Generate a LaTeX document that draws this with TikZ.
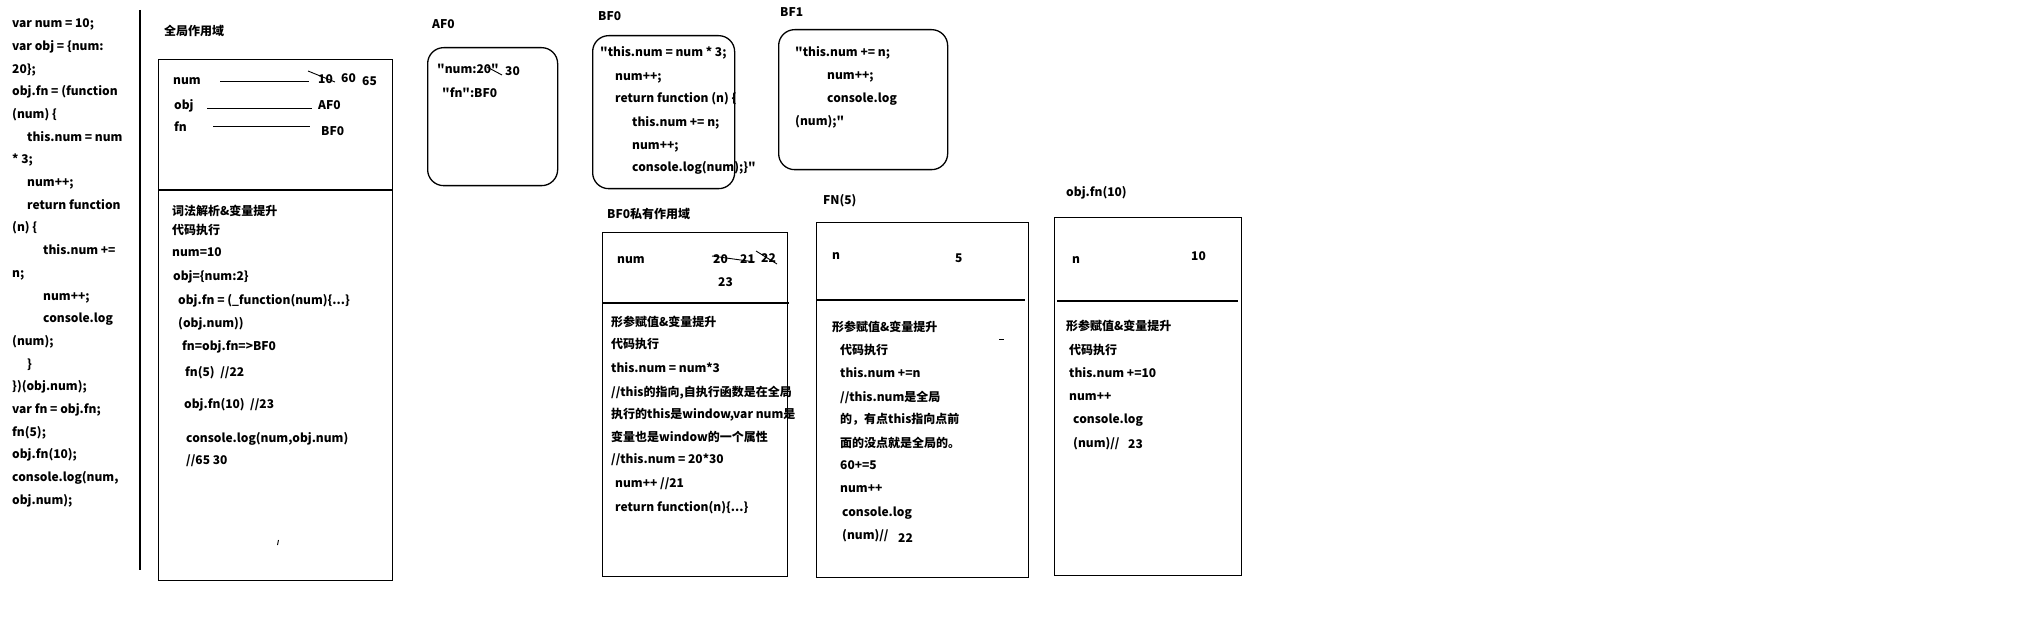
\documentclass[tikz,border=0pt]{standalone}
\usepackage{fontspec}
\newfontfamily\nf{Noto Sans CJK SC}
\begin{document}
\begin{tikzpicture}[x=1pt,y=-1pt,
  t/.style={anchor=base west, inner sep=0pt, font=\nf\bfseries\fontsize{12}{14}\selectfont},
  sqbox/.style={draw, line width=1.3pt, anchor=north west, inner sep=0pt},
  rbox/.style={draw, line width=1.3pt, rounded corners=16pt, anchor=north west, inner sep=0pt},
  ln/.style={line width=1.2pt},
  thin/.style={line width=0.9pt}]
\useasboundingbox (0,0) rectangle (2044,644);
% left source code
\node[t] (c0) at (12,28) {var num = 10;};
\node[t] (c1) at (12,50.7) {var obj = \{num:};
\node[t] (c2) at (12,73.3) {20\};};
\node[t] (c3) at (12,96) {obj.fn = (function};
\node[t] (c4) at (12,118.7) {(num) \{};
\node[t] (c5) at (27,141.3) {this.num = num};
\node[t] (c6) at (12,164) {* 3;};
\node[t] (c7) at (27,186.7) {num++;};
\node[t] (c8) at (27,209.3) {return function};
\node[t] (c9) at (12,232) {(n) \{};
\node[t] (c10) at (43,254.7) {this.num +=};
\node[t] (c11) at (12,277.3) {n;};
\node[t] (c12) at (43,300) {num++;};
\node[t] (c13) at (43,322.7) {console.log};
\node[t] (c14) at (12,345.3) {(num);};
\node[t] (c15) at (27,368) {\}};
\node[t] (c16) at (12,390.7) {\})(obj.num);};
\node[t] (c17) at (12,413.3) {var fn = obj.fn;};
\node[t] (c18) at (12,436) {fn(5);};
\node[t] (c19) at (12,458.7) {obj.fn(10);};
\node[t] (c20) at (12,481.3) {console.log(num,};
\node[t] (c21) at (12,504) {obj.num);};
\coordinate (sepT) at (140,10);
\coordinate (sepB) at (140,570);
\draw[ln] (sepT) -- (sepB);

% global scope
\node[t] (glabel) at (164,36) {全局作用域};
\node[sqbox, minimum width=234pt, minimum height=521pt] (gbox) at (158,59) {};
\coordinate (gdivL) at (158,190);
\coordinate (gdivR) at (392,190);
\draw[ln] (gdivL) -- (gdivR);
\node[t] (gnum) at (173,85) {num};
\coordinate (gnumA) at (220,81); \coordinate (gnumB) at (309,81);
\draw[thin] (gnumA) -- (gnumB);
\node[t] (g10) at (318,84) {10};
\node[t] (g60) at (341,83) {60};
\node[t] (g65) at (362,86) {65};
\coordinate (gsA) at (308,71); \coordinate (gsB) at (335,82);
\draw[thin] (gsA) -- (gsB);
\node[t] (gobj) at (174,110) {obj};
\coordinate (gobjA) at (207,108); \coordinate (gobjB) at (312,108);
\draw[thin] (gobjA) -- (gobjB);
\node[t] (gaf0) at (318,110) {AF0};
\node[t] (gfn) at (174,132) {fn};
\coordinate (gfnA) at (213,126); \coordinate (gfnB) at (310,126);
\draw[thin] (gfnA) -- (gfnB);
\node[t] (gbf0) at (321,136) {BF0};
\node[t] (g1) at (172,216) {词法解析\&变量提升};
\node[t] (g2) at (172,235) {代码执行};
\node[t] (g3) at (172,257) {num=10};
\node[t] (g4) at (173,280) {obj=\{num:2\}};
\node[t] (g5) at (178,304) {obj.fn = (\_function(num)\{...\}};
\node[t] (g6) at (178,327) {(obj.num))};
\node[t] (g7) at (182,350) {fn=obj.fn=>BF0};
\node[t] (g8) at (185,376) {fn(5)~ //22};
\node[t] (g9) at (184,408) {obj.fn(10)~ //23};
\node[t] (g10b) at (186,442) {console.log(num,obj.num)};
\node[t] (g11) at (186,464) {//65 30};
\coordinate (tickA) at (278.5,540); \coordinate (tickB) at (277.5,545);
\draw[thin] (tickA) -- (tickB);

% AF0
\node[t] (aflabel) at (432,29) {AF0};
\node[rbox, minimum width=130pt, minimum height=138pt] (afbox) at (427,47) {};
\node[t] (af1) at (437,74) {"num:20"};
\coordinate (afsA) at (487,67); \coordinate (afsB) at (502,75);
\draw[thin] (afsA) -- (afsB);
\node[t] (af30) at (505,76) {30};
\node[t] (af2) at (442,98) {"fn":BF0};

% BF0
\node[t] (bflabel) at (598,21) {BF0};
\node[rbox, minimum width=142pt, minimum height=153pt] (bfbox) at (592,35) {};
\node[t] (bf1) at (600,57) {"this.num = num * 3;};
\node[t] (bf2) at (615,81) {num++;};
\node[t] (bf3) at (615,103) {return function (n) \{};
\node[t] (bf4) at (632,127) {this.num += n;};
\node[t] (bf5) at (632,150) {num++;};
\node[t] (bf6) at (632,172) {console.log(num);\}"};

% BF1
\node[t] (bf1label) at (780,17) {BF1};
\node[rbox, minimum width=169pt, minimum height=140pt] (bf1box) at (778,29) {};
\node[t] (bfa) at (795,57) {"this.num += n;};
\node[t] (bfb) at (827,80) {num++;};
\node[t] (bfc) at (827,103) {console.log};
\node[t] (bfd) at (795,126) {(num);"};

% BF0 private scope
\node[t] (plabel) at (607,219) {BF0私有作用域};
\node[sqbox, minimum width=185pt, minimum height=344pt] (pbox) at (602,232) {};
\coordinate (pdivL) at (602,303); \coordinate (pdivR) at (789,303);
\draw[ln] (pdivL) -- (pdivR);
\node[t] (pnum) at (617,263) {num};
\node[t] (p20) at (713,263) {20};
\node[t] (p21) at (740,263) {21};
\node[t] (p22) at (761,262) {22};
\node[t] (p23) at (718,286) {23};
\coordinate (psA) at (712,256); \coordinate (psB) at (755,262);
\draw[thin] (psA) -- (psB);
\coordinate (psC) at (756,251); \coordinate (psD) at (777,264);
\draw[thin] (psC) -- (psD);
\node[t] (p1) at (611,326) {形参赋值\&变量提升};
\node[t] (p2) at (611,348) {代码执行};
\node[t] (p3) at (611,372) {this.num = num*3};
\node[t] (p4) at (611,396) {//this的指向,自执行函数是在全局};
\node[t] (p5) at (611,418) {执行的this是window,var num是};
\node[t] (p6) at (611,441) {变量也是window的一个属性};
\node[t] (p7) at (611,463) {//this.num = 20*30};
\node[t] (p8) at (615,487) {num++ //21};
\node[t] (p9) at (615,511) {return function(n)\{...\}};

% FN(5)
\node[t] (flabel) at (823,205) {FN(5)};
\node[sqbox, minimum width=212pt, minimum height=355pt] (fbox) at (816,222) {};
\coordinate (fdivL) at (816,300); \coordinate (fdivR) at (1025,300);
\draw[ln] (fdivL) -- (fdivR);
\node[t] (fn) at (832,260) {n};
\node[t] (f5) at (955,262) {5};
\node[t] (f1) at (832,331) {形参赋值\&变量提升};
\node[t] (f2) at (840,354) {代码执行};
\node[t] (f3) at (840,377) {this.num +=n};
\node[t] (f4) at (840,401) {//this.num是全局};
\node[t] (f5b) at (840,423) {的，有点this指向点前};
\node[t] (f6) at (840,447) {面的没点就是全局的。};
\node[t] (f7) at (840,469) {60+=5};
\node[t] (f8) at (840,492) {num++};
\node[t] (f9) at (842,516) {console.log};
\node[t] (f10) at (842,539) {(num)//};
\node[t] (f22) at (898,542) {22};
\coordinate (fdA) at (999,339); \coordinate (fdB) at (1004,339);
\draw[thin] (fdA) -- (fdB);

% obj.fn(10)
\node[t] (olabel) at (1066,197) {obj.fn(10)};
\node[sqbox, minimum width=187pt, minimum height=358pt] (obox) at (1054,217) {};
\coordinate (odivL) at (1057,301); \coordinate (odivR) at (1238,301);
\draw[ln] (odivL) -- (odivR);
\node[t] (on) at (1072,263) {n};
\node[t] (o10) at (1191,261) {10};
\node[t] (o1) at (1066,330) {形参赋值\&变量提升};
\node[t] (o2) at (1069,354) {代码执行};
\node[t] (o3) at (1069,377) {this.num +=10};
\node[t] (o4) at (1069,400) {num++};
\node[t] (o5) at (1073,423) {console.log};
\node[t] (o6) at (1073,447) {(num)//};
\node[t] (o23) at (1128,448) {23};
\end{tikzpicture}
\end{document}
